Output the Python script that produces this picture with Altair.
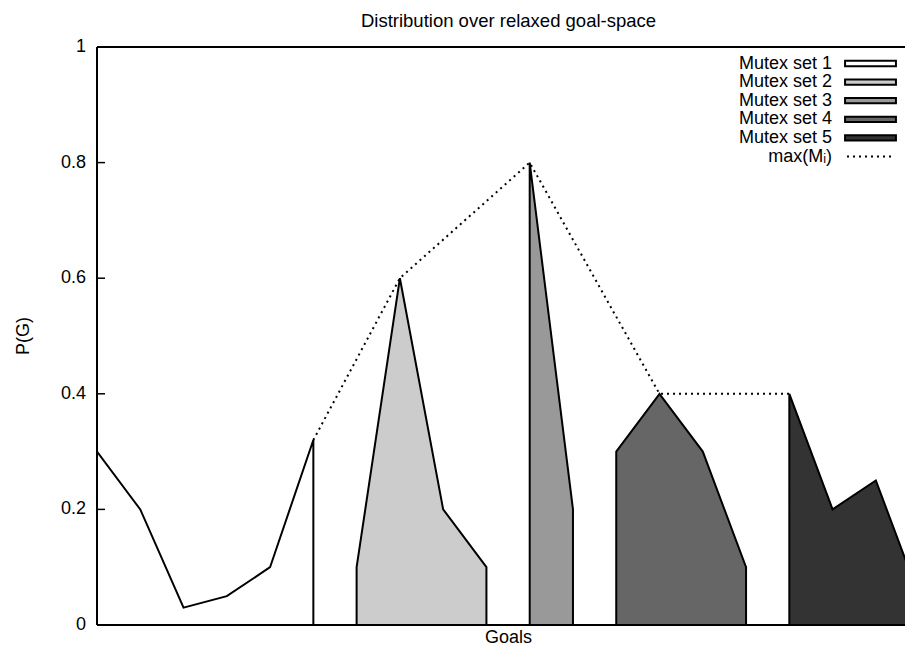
import altair as alt
import pandas as pd

# ---------------- data ----------------
set_names = ["Mutex set 1", "Mutex set 2", "Mutex set 3", "Mutex set 4", "Mutex set 5"]
set_goals = [[0, 1, 2, 3, 4, 5], [6, 7, 8, 9], [10, 11], [12, 13, 14, 15], [16, 17, 18, 19]]
set_probs = [
    [0.30, 0.20, 0.03, 0.05, 0.10, 0.32],
    [0.10, 0.60, 0.20, 0.10],
    [0.80, 0.20],
    [0.30, 0.40, 0.30, 0.10],
    [0.40, 0.20, 0.25, 0.05],
]
set_fills = ["#ffffff", "#cccccc", "#999999", "#666666", "#333333"]
max_goals = [5, 7, 10, 13, 16]
max_probs = [0.32, 0.60, 0.80, 0.40, 0.40]
max_label = "max(M\u1d62)"
y_ticks = [0, 0.2, 0.4, 0.6, 0.8, 1.0]
y_tick_labels = ["0", "0.2", "0.4", "0.6", "0.8", "1"]
inner_ticks = [0.2, 0.4, 0.6, 0.8]
title_text = "Distribution over relaxed goal-space"
x_title = "Goals"
y_title = "P(G)"

# ---------------- tables ----------------
rows = []
for name, gs, ps in zip(set_names, set_goals, set_probs):
    for g, p in zip(gs, ps):
        rows.append({"set": name, "goal": g, "p": p})
df = pd.DataFrame(rows)
max_df = pd.DataFrame({"goal": max_goals, "p": max_probs})
tick_df = pd.DataFrame({"p": inner_ticks})
border_df = pd.DataFrame({"p": [y_ticks[0], y_ticks[-1]]})
ylab_df = pd.DataFrame({"p": y_ticks, "label": y_tick_labels})

FONT = "Liberation Sans"
FS = 18
W, H = 808, 578
UNIT = 43.27            # pixels per goal step
X_MAX = W / UNIT

# legend layout (pixels inside the plot area)
LEG_TOP = 16.5
LEG_STEP = 18.6
LEG_TEXT_X = 735
LEG_SW_X = 773.5
LEG_LINE_X = (750, 796)

x_scale = alt.Scale(domain=[0, X_MAX], nice=False, zero=False)
y_scale = alt.Scale(domain=[0, 1], nice=False)
fill_scale = alt.Scale(domain=set_names, range=set_fills)

areas = alt.Chart(df).mark_area(
    stroke="black", strokeWidth=2, clip=True, interpolate="linear",
    fillOpacity=1, strokeJoin="miter"
).encode(
    x=alt.X("goal:Q", scale=x_scale, axis=None),
    y=alt.Y("p:Q", scale=y_scale, stack=None, axis=None),
    fill=alt.Fill("set:N", scale=fill_scale, legend=None),
    detail="set:N",
)

max_line = alt.Chart(max_df).mark_line(
    color="black", strokeWidth=2, strokeDash=[2, 4], clip=True
).encode(
    x=alt.X("goal:Q", scale=x_scale, axis=None),
    y=alt.Y("p:Q", scale=y_scale, axis=None),
)

# frame: top/bottom borders at the y-range ends, left border, inward ticks
hborders = alt.Chart(border_df).mark_rule(color="black", strokeWidth=2).encode(
    y=alt.Y("p:Q", scale=y_scale, axis=None), x=alt.value(0), x2=alt.value(W)
)
left_border = alt.Chart(border_df.head(1)).mark_rule(color="black", strokeWidth=2).encode(
    x=alt.value(0), y=alt.value(0), y2=alt.value(H)
)
left_ticks = alt.Chart(tick_df).mark_rule(color="black", strokeWidth=1.5).encode(
    y=alt.Y("p:Q", scale=y_scale, axis=None), x=alt.value(0), x2=alt.value(8)
)
ylabels = alt.Chart(ylab_df).mark_text(
    align="right", baseline="middle", font=FONT, fontSize=FS, color="black"
).encode(
    y=alt.Y("p:Q", scale=y_scale, axis=None), x=alt.value(-11), text="label:N"
)
ytitle = alt.Chart(pd.DataFrame({"t": [y_title]})).mark_text(
    angle=270, align="center", baseline="middle", font=FONT, fontSize=FS, color="black"
).encode(x=alt.value(-73.5), y=alt.value(H / 2), text="t:N")
xtitle = alt.Chart(pd.DataFrame({"t": [x_title]})).mark_text(
    align="center", baseline="alphabetic", font=FONT, fontSize=FS, color="black"
).encode(x=alt.value(411.5), y=alt.value(H + 18), text="t:N")

layers = [areas, max_line, hborders, left_border, left_ticks, ylabels, ytitle, xtitle]

# ---------------- legend (inside the plot, labels left of keys) ----------------
labels = set_names + [max_label]
for i, lab in enumerate(labels):
    ypix = LEG_TOP + i * LEG_STEP
    row_df = pd.DataFrame({"label": [lab], "set": [lab]})
    layers.append(
        alt.Chart(row_df).mark_text(
            align="right", baseline="middle", font=FONT, fontSize=FS, color="black"
        ).encode(x=alt.value(LEG_TEXT_X), y=alt.value(ypix), text="label:N")
    )
    if i < len(set_names):
        layers.append(
            alt.Chart(row_df).mark_point(
                shape="M-0.96,-0.1H0.96V0.1H-0.96Z", size=2809, filled=True,
                stroke="black", strokeWidth=2, opacity=1, fillOpacity=1
            ).encode(
                x=alt.value(LEG_SW_X), y=alt.value(ypix),
                fill=alt.Fill("set:N", scale=fill_scale, legend=None),
            )
        )
    else:
        layers.append(
            alt.Chart(row_df).mark_rule(
                color="black", strokeWidth=2, strokeDash=[2, 4]
            ).encode(x=alt.value(LEG_LINE_X[0]), x2=alt.value(LEG_LINE_X[1]), y=alt.value(ypix))
        )

chart = alt.layer(*layers).properties(
    width=W, height=H,
    autosize=alt.AutoSizeParams(type="none"),
    padding={"left": 89, "top": 39, "right": 0, "bottom": 22},
    title=alt.Title(title_text, font=FONT, fontSize=18.5,
                    fontWeight="normal", color="black", anchor="middle",
                    dx=411.5 - W / 2, offset=8),
).configure_view(stroke=None).configure(background="white")

chart.save("out.html", embed_options={"renderer": "svg", "actions": False})
